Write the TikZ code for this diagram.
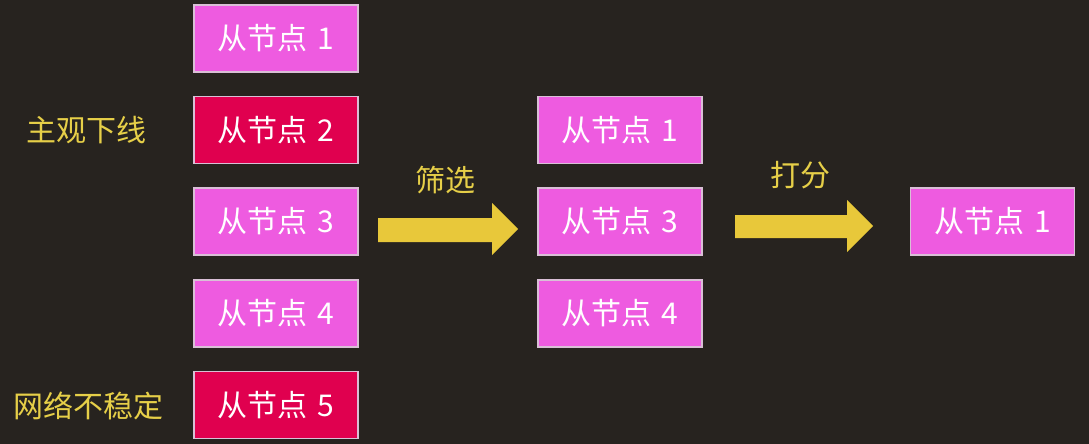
\documentclass[tikz,border=0pt]{standalone}
\usepackage{fontspec}
\newfontfamily\cjk{Noto Sans CJK SC}
\definecolor{bg}{HTML}{27231F}
\definecolor{nodepink}{HTML}{EE5BE0}
\definecolor{nodered}{HTML}{E0004F}
\definecolor{arrowyellow}{HTML}{E8C83A}
\definecolor{labelyellow}{HTML}{E6CF48}
\definecolor{edgegray}{HTML}{D9BFD6}
\newcommand{\slavename}[1]{从节点\hspace{10pt}#1}
\tikzset{
  slave/.style={draw=edgegray,line width=1.2pt,fill=nodepink,text=white,
    minimum width=164pt,minimum height=67pt,inner sep=0pt,
    font=\cjk\fontsize{30}{30}\selectfont},
  down/.style={slave,fill=nodered},
  reason/.style={text=labelyellow,inner sep=0pt,font=\cjk\fontsize{30}{30}\selectfont},
  fatarrow/.style={fill=arrowyellow}
}
\begin{document}
\begin{tikzpicture}[x=1pt,y=-1pt]
\fill[bg] (0,0) rectangle (1089,444);
\useasboundingbox (0,0) rectangle (1089,444);
% first column
\node[slave] (a1) at (276,38.5) {\slavename{1}};
\node[down] (a2) at (276,130) {\slavename{2}};
\node[slave] (a3) at (276,221.5) {\slavename{3}};
\node[slave] (a4) at (276,313.5) {\slavename{4}};
\node[down] (a5) at (276,405) {\slavename{5}};
\node[reason] (r2) at (86,130) {主观下线};
\node[reason] (r5) at (88,406) {网络不稳定};
% filter
\fill[fatarrow] (378,218) -- (492,218) -- (492,203) -- (518,229) -- (492,255)
  -- (492,242) -- (378,242) -- cycle;
\node[reason] (filter) at (445,180) {筛选};
% second column
\node[slave] (b1) at (620,130) {\slavename{1}};
\node[slave] (b3) at (620,221.5) {\slavename{3}};
\node[slave] (b4) at (620,313.5) {\slavename{4}};
% score
\fill[fatarrow] (735,215) -- (847,215) -- (847,200) -- (873,226) -- (847,252)
  -- (847,238) -- (735,238) -- cycle;
\node[reason] (score) at (800,175) {打分};
\node[slave] (c1) at (992.5,221.5) {\slavename{1}};
\end{tikzpicture}
\end{document}
